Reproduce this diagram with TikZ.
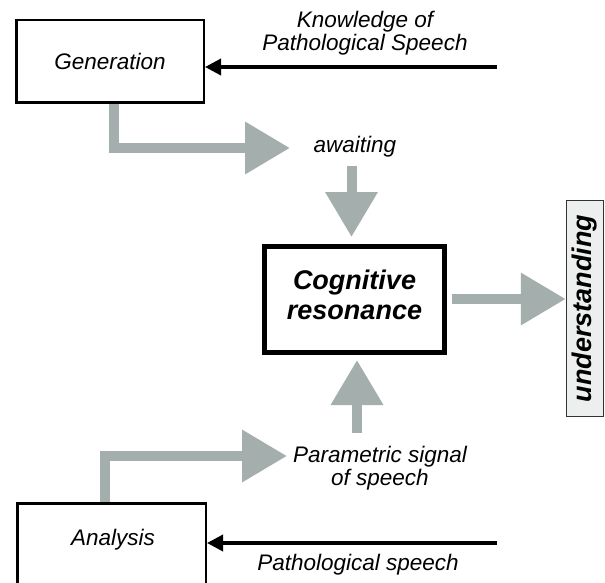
\documentclass[tikz,border=0pt]{standalone}
\usepackage{fontspec}
\setmainfont{Liberation Sans}
\usetikzlibrary{arrows.meta,calc}
\definecolor{flow}{HTML}{A4AFAD}
\definecolor{ufill}{HTML}{EDEFEE}
\begin{document}
\begin{tikzpicture}[x=1pt,y=-1pt,
  box/.style={draw=black, line width=2.5pt, fill=white, inner sep=0pt},
  lbl/.style={font=\fontsize{22.5}{23.5}\selectfont\itshape, align=center, inner sep=0pt},
  blbl/.style={font=\fontsize{27}{30}\selectfont\bfseries\itshape, align=center, inner sep=0pt},
  thinarrow/.style={draw=black, line width=3.5pt, -{Triangle[length=16pt,width=16pt]}},
  fatarrow/.style={draw=flow, line width=10pt, -{Triangle[length=45pt,width=50pt]}},
]
\clip (0,0) rectangle (605,583);
\fill[white] (0,0) rectangle (605,583);

% boxes
\node[box, minimum width=187.5pt, minimum height=82.5pt, font=\fontsize{22.5}{24}\selectfont\itshape] (gen) at (110,61.5) {Generation};
\node[box, line width=5pt, minimum width=180pt, minimum height=106pt] (cog) at (354.5,299.5) {};
\node[blbl] (cogt) at (354.5,295) {Cognitive\\resonance};
\node[box, minimum width=188.5pt, minimum height=150pt, anchor=north] (anabox) at (111.5,502.25) {};
\node[lbl] (ana) at (113,540) {Analysis};
\node[draw=black!80, line width=1.5pt, fill=ufill, rotate=90, minimum width=216pt, minimum height=37pt, inner sep=0pt,
      font=\fontsize{27}{30}\selectfont\bfseries\itshape] (und) at (585,308.5) {understanding};

% labels
\node[lbl] (know) at (365,33) {Knowledge of\\Pathological Speech};
\node[lbl] (await) at (355,147) {awaiting};
\node[lbl] (param) at (380,468) {Parametric signal\\of speech};
\node[lbl] (patho) at (358,565) {Pathological speech};

% coordinates for free ends
\coordinate (kstart) at (497,67);
\coordinate (pstart) at (497,543);

% black arrows
\draw[thinarrow] (kstart) -- (kstart -| gen.east);
\draw[thinarrow] (pstart) -- (pstart -| anabox.east);

% gray flow arrows
\draw[fatarrow] (gen.south -| 113.5,0) -- (113.5,148) -- (290,148);
\draw[fatarrow] (await.south -| 351.5,0) ++(0,8) -- ($(cog.north -| 351.5,0)+(0,-7)$);
\draw[fatarrow] (param.north -| 357,0) ++(0,-13) -- ($(cog.south -| 357,0)+(0,5)$);
\draw[fatarrow] (452,299) -- (und.north |- 0,299);
\draw[fatarrow] (anabox.north -| 104.5,0) -- (104.5,456) -- (287,456);
\end{tikzpicture}
\end{document}
